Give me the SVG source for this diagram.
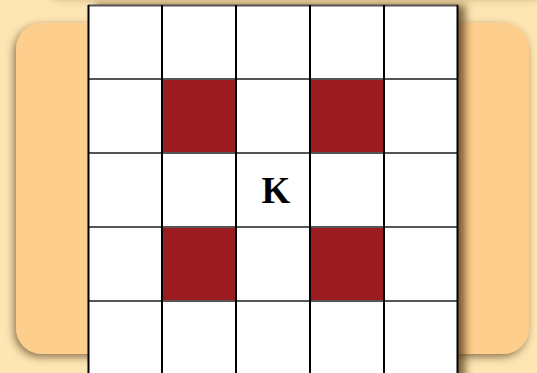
<svg xmlns="http://www.w3.org/2000/svg" width="537" height="373" viewBox="0 0 537 373">
<defs>
<filter id="sh" x="-10%" y="-10%" width="120%" height="120%">
<feDropShadow dx="-2" dy="3" stdDeviation="4" flood-color="#5a4020" flood-opacity="0.7"/>
</filter>
<filter id="ts" x="-10%" y="-50%" width="120%" height="200%">
<feDropShadow dx="-2" dy="3" stdDeviation="4" flood-color="#5a4020" flood-opacity="0.35"/>
</filter>
<filter id="gs" x="-10%" y="-10%" width="130%" height="120%">
<feDropShadow dx="7" dy="0" stdDeviation="4" flood-color="#4a3010" flood-opacity="0.75"/>
</filter>
<style>
.h{stroke:#555;stroke-width:2.2}
.v{stroke:#000;stroke-width:2}
.r{fill:#9B1C20}
.k{font-family:"Liberation Serif",serif;font-weight:bold;font-size:37px;fill:#000}
</style>
</defs>
<rect width="537" height="373" fill="#FEE6B4"/>
<rect x="40" y="-70" width="520" height="66" rx="25" fill="#FEE6B4" filter="url(#ts)"/>
<rect x="16" y="23" width="513" height="331" rx="26" fill="#FECE8D" filter="url(#sh)"/>
<g id="grid">
<rect x="88" y="5" width="370" height="380" fill="#fff" filter="url(#gs)"/>
<rect class="r" x="162" y="79" width="74" height="74"/>
<rect class="r" x="310" y="79" width="74" height="74"/>
<rect class="r" x="162" y="227" width="74" height="74"/>
<rect class="r" x="310" y="227" width="74" height="74"/>
</g>
<g id="connectors">
<line class="h" x1="88" y1="5.5" x2="458" y2="5.5"/>
<line class="h" x1="88" y1="79" x2="458" y2="79"/>
<line class="h" x1="88" y1="153" x2="458" y2="153"/>
<line class="h" x1="88" y1="227" x2="458" y2="227"/>
<line class="h" x1="88" y1="301" x2="458" y2="301"/>
<line class="v" x1="88.5" y1="5" x2="88.5" y2="373"/>
<line class="v" x1="162" y1="5" x2="162" y2="373"/>
<line class="v" x1="236" y1="5" x2="236" y2="373"/>
<line class="v" x1="310" y1="5" x2="310" y2="373"/>
<line class="v" x1="384" y1="5" x2="384" y2="373"/>
<line class="v" x1="457.5" y1="5" x2="457.5" y2="373"/>
</g>
<g id="center"><text class="k" x="276" y="203" text-anchor="middle">K</text></g>
</svg>
